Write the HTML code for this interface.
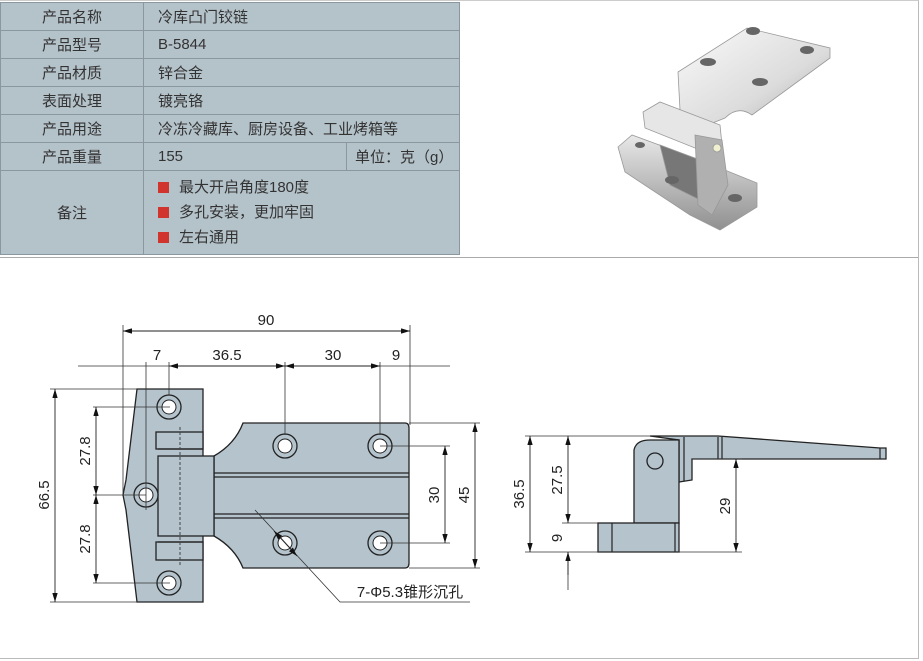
<!DOCTYPE html>
<html><head><meta charset="utf-8"><style>
body{margin:0;background:#fff;width:923px;height:661px;overflow:hidden;position:relative;font-family:"Liberation Sans","Noto Sans CJK SC",sans-serif}
.t{position:absolute;left:0;top:2px;width:460px;border-collapse:collapse;background:#b4c2ca;font-size:15px;color:#333}
.t td{border:1px solid #8a979e;height:27px;padding:0}
.k{width:142px;text-align:center}
.v{padding-left:14px!important}
.sq{display:inline-block;width:11px;height:11px;background:#d0342c;margin-right:10px;vertical-align:-1px}
</style></head><body>
<div style="position:absolute;left:0;top:0;width:918px;height:657px;border-right:1px solid #bbb;border-bottom:1px solid #bbb;border-top:1px solid #ccc"></div>
<div style="position:absolute;left:0;top:257px;width:918px;border-top:1px solid #aaa"></div>
<table class="t">
<tr><td class="k">产品名称</td><td class="v" colspan="2">冷库凸门铰链</td></tr>
<tr><td class="k">产品型号</td><td class="v" colspan="2">B-5844</td></tr>
<tr><td class="k">产品材质</td><td class="v" colspan="2">锌合金</td></tr>
<tr><td class="k">表面处理</td><td class="v" colspan="2">镀亮铬</td></tr>
<tr><td class="k">产品用途</td><td class="v" colspan="2">冷冻冷藏库、厨房设备、工业烤箱等</td></tr>
<tr><td class="k">产品重量</td><td class="v" style="width:188px">155</td><td style="padding-left:8px">单位：克（g）</td></tr>
<tr><td class="k" style="height:83px">备注</td><td class="v" colspan="2" style="line-height:25px"><span class="sq"></span>最大开启角度180度<br><span class="sq"></span>多孔安装，更加牢固<br><span class="sq"></span>左右通用</td></tr>
</table>
<svg style="position:absolute;left:0;top:0" width="923" height="661">
<defs><linearGradient id="m" x1="0" y1="0" x2="1" y2="1"><stop offset="0" stop-color="#fafafa"/><stop offset=".6" stop-color="#dcdcdc"/><stop offset="1" stop-color="#a8a8a8"/></linearGradient>
<linearGradient id="n" x1="0" y1="0" x2="0" y2="1"><stop offset="0" stop-color="#e8e8e8"/><stop offset="1" stop-color="#909090"/></linearGradient>
<marker id="a" viewBox="0 0 10 6" refX="10" refY="3" markerWidth="10" markerHeight="6" orient="auto-start-reverse"><path d="M0,0L10,3L0,6z" fill="#111"/></marker></defs>
<!-- photo -->
<g stroke="#999" stroke-width=".8">
<path d="M618,147 L632,135 L700,160 L757,183 L757,207 L720,230 L690,215 L625,172 Z" fill="url(#n)"/>
<path d="M660,145 L700,160 L700,200 L670,185 Z" fill="#777"/>
<path d="M678,72 L747,28 L830,48 L830,58 L752,115 Q738,105 725,118 L700,128 L680,110 Z" fill="url(#m)"/>
<path d="M643,112 L660,102 L720,125 L722,145 L700,150 L645,128 Z" fill="#e6e6e6"/>
<path d="M695,135 L722,140 L728,185 L712,215 L698,205 Z" fill="#b0b0b0"/>
<circle cx="717" cy="148" r="4" fill="#f0f0d0"/>
</g>
<g fill="#666"><ellipse cx="708" cy="62" rx="8" ry="4"/><ellipse cx="753" cy="31" rx="7" ry="4"/><ellipse cx="807" cy="50" rx="7" ry="4"/><ellipse cx="760" cy="82" rx="8" ry="4"/><ellipse cx="672" cy="180" rx="7" ry="4"/><ellipse cx="735" cy="198" rx="7" ry="4"/><ellipse cx="640" cy="145" rx="5" ry="3"/></g>
<!-- left drawing -->
<g stroke="#222" stroke-width="1.3" fill="#b4c3cc">
<path d="M137,389 L203,389 L203,602 L137,602 L126,510 L123,495 L126,480 Z"/>
<path d="M243,423 L405,423 Q409,423 409,428 L409,563 Q409,568 405,568 L243,568 Q235,548 214,536 L214,456 Q235,444 243,423 Z"/>
<rect x="158" y="456" width="56" height="80"/>
<rect x="156" y="432" width="47" height="17"/>
<rect x="156" y="542" width="47" height="18"/>
</g>
<g stroke="#222" stroke-width="1.2"><line x1="214" y1="473" x2="409" y2="473"/><line x1="214" y1="477" x2="409" y2="477"/><line x1="214" y1="514" x2="409" y2="514"/><line x1="214" y1="518" x2="409" y2="518"/><line x1="158" y1="449" x2="203" y2="449"/><line x1="158" y1="542" x2="203" y2="542"/></g>
<line x1="180" y1="427" x2="180" y2="565" stroke="#444" stroke-dasharray="3,2"/>
<g stroke="#222" stroke-width="1.3" fill="#b4c3cc">
<circle cx="169" cy="407" r="12"/><circle cx="146" cy="495" r="12"/><circle cx="169" cy="583" r="12"/>
<circle cx="285" cy="446" r="12"/><circle cx="380" cy="446" r="12"/><circle cx="285" cy="543" r="12"/><circle cx="380" cy="543" r="12"/>
</g>
<g fill="#fff" stroke="#222" stroke-width="1"><circle cx="169" cy="407" r="7"/><circle cx="146" cy="495" r="7"/><circle cx="169" cy="583" r="7"/><circle cx="285" cy="446" r="7"/><circle cx="380" cy="446" r="7"/><circle cx="285" cy="543" r="7"/><circle cx="380" cy="543" r="7"/></g>
<g stroke="#333" stroke-width=".8" fill="none">
<line x1="123" y1="325" x2="123" y2="495"/><line x1="410" y1="325" x2="410" y2="425"/>
<line x1="146" y1="362" x2="146" y2="510"/><line x1="169" y1="362" x2="169" y2="395"/><line x1="285" y1="362" x2="285" y2="435"/><line x1="380" y1="362" x2="380" y2="435"/>
<line x1="78" y1="366" x2="450" y2="366"/>
<line x1="50" y1="389" x2="137" y2="389"/><line x1="50" y1="602" x2="137" y2="602"/>
<line x1="93" y1="407" x2="170" y2="407"/><line x1="93" y1="495" x2="146" y2="495"/><line x1="93" y1="583" x2="170" y2="583"/>
<line x1="380" y1="446" x2="450" y2="446"/><line x1="380" y1="543" x2="450" y2="543"/>
<line x1="409" y1="423" x2="480" y2="423"/><line x1="409" y1="568" x2="480" y2="568"/>
<path d="M255,510 L340,602 L470,602"/>
</g>
<g stroke="#222" stroke-width=".9" marker-start="url(#a)" marker-end="url(#a)">
<line x1="123" y1="331" x2="410" y2="331"/>
<line x1="55" y1="389" x2="55" y2="602"/>
<line x1="96" y1="407" x2="96" y2="495"/><line x1="96" y1="495" x2="96" y2="583"/>
<line x1="445" y1="446" x2="445" y2="543"/><line x1="475" y1="423" x2="475" y2="568"/>
<line x1="169" y1="366" x2="285" y2="366"/><line x1="285" y1="366" x2="380" y2="366"/>
<line x1="274" y1="531" x2="297" y2="556"/>
</g>
<g fill="#222" font-family="Liberation Sans,sans-serif" font-size="15" text-anchor="middle">
<text x="266" y="325">90</text><text x="157" y="360">7</text><text x="227" y="360">36.5</text><text x="333" y="360">30</text><text x="396" y="360">9</text>
<text transform="translate(49,495) rotate(-90)">66.5</text>
<text transform="translate(90,451) rotate(-90)">27.8</text><text transform="translate(90,539) rotate(-90)">27.8</text>
<text transform="translate(439,495) rotate(-90)">30</text><text transform="translate(469,495) rotate(-90)">45</text>
<text x="410" y="597" font-family="Liberation Sans,Noto Sans CJK SC,sans-serif">7-Φ5.3锥形沉孔</text>
<text transform="translate(524,494) rotate(-90)">36.5</text><text transform="translate(562,480) rotate(-90)">27.5</text><text transform="translate(562,538) rotate(-90)">9</text><text transform="translate(730,506) rotate(-90)">29</text>
</g>
<!-- right drawing -->
<g stroke="#222" stroke-width="1.3" fill="#b4c3cc">
<path d="M650,436 L718,436 L880,448 L886,448 L886,459 L692,459 L692,480 L679,482 L679,440 Z"/>
<path d="M634,450 Q636,440 650,440 L679,440 L679,523 L634,523 Z"/>
<rect x="598" y="523" width="81" height="29"/>
<circle cx="655" cy="461" r="8"/>
</g>
<g stroke="#222" stroke-width="1.2"><line x1="684" y1="437" x2="684" y2="481"/><line x1="718" y1="437" x2="718" y2="459"/><line x1="722" y1="437" x2="722" y2="459"/><line x1="880" y1="448" x2="880" y2="459"/><line x1="612" y1="523" x2="612" y2="552"/><line x1="675" y1="523" x2="675" y2="552"/></g>
<g stroke="#333" stroke-width=".8"><line x1="525" y1="436" x2="650" y2="436"/><line x1="525" y1="552" x2="742" y2="552"/><line x1="562" y1="523" x2="598" y2="523"/><line x1="692" y1="459" x2="742" y2="459"/><line x1="568" y1="552" x2="568" y2="590"/></g>
<g stroke="#222" stroke-width=".9" marker-start="url(#a)" marker-end="url(#a)">
<line x1="530" y1="436" x2="530" y2="552"/><line x1="568" y1="436" x2="568" y2="523"/><line x1="736" y1="459" x2="736" y2="552"/>
</g>
<line x1="568" y1="575" x2="568" y2="552" stroke="#222" stroke-width=".9" marker-end="url(#a)"/>
</svg>
</body></html>
